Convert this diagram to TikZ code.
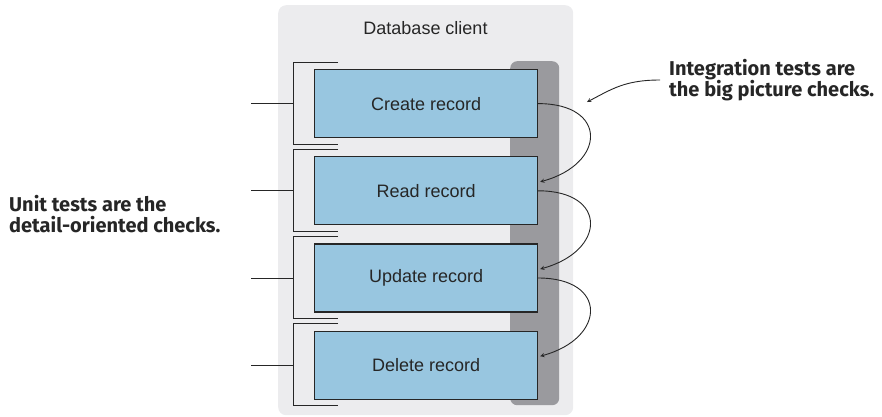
\documentclass[tikz,border=0pt]{standalone}
\usepackage{fontspec}
\setmainfont{Liberation Sans}
\newfontfamily\notefont{Fira Sans}
\usetikzlibrary{arrows, positioning, calc}
\definecolor{clientgray}{RGB}{236,236,238}
\definecolor{bargray}{RGB}{154,154,158}
\definecolor{recordblue}{RGB}{152,198,224}
\definecolor{inkgray}{RGB}{38,38,38}
\tikzstyle{record} = [draw=inkgray, line width=1.2pt, fill=recordblue, minimum width=223pt, minimum height=68pt, inner sep=0pt, font=\fontsize{18}{21}\selectfont, text=inkgray]
\tikzstyle{bracket} = [line width=1pt, inkgray]
\tikzstyle{arrow} = [line width=0.9pt,->,>=stealth,inkgray]
\tikzstyle{note} = [align=left, anchor=west, inner sep=0pt, font=\notefont\bfseries\fontsize{20}{21}\selectfont, text=inkgray]

\begin{document}
\begin{tikzpicture}[x=1pt, y=-1pt]
\useasboundingbox (0,0) rectangle (882,416);
% Client and its back bar
\node[fill=clientgray, rounded corners=8pt, minimum width=295pt, minimum height=410pt, inner sep=0pt, anchor=north west] (client) at (278,5) {};
\node[fill=bargray, rounded corners=7pt, minimum width=49pt, minimum height=344pt, inner sep=0pt, anchor=north west] (bar) at (510,61) {};
\node[font=\fontsize{18}{21}\selectfont, text=inkgray] (title) at (425.5,28) {Database client};

% Record operations
\node[record, anchor=north west] (create) at (314,69) {Create record};
\node[record, below=18pt of create] (read) {Read record};
\node[record, below=18pt of read] (update) {Update record};
\node[record, below=18pt of update] (delete) {Delete record};

% Unit test brackets
\foreach \r in {create, read, update, delete} {
    \draw[bracket] ($(\r.north west)+(24,-7)$) -| ($(\r.south west)+(-21,6)$) -- ($(\r.south west)+(24,6)$);
    \draw[bracket] ($(\r.west)+(-21,0)$) -- ($(\r.west)+(-63,0)$);
}

% Integration flow
\foreach \a/\b in {create/read, read/update, update/delete}
    \draw[arrow] (\a.east) .. controls +(70,0) and +(66,-18) .. ($(\b.east)+(2,-9)$);

% Notes
\node[note] (unitnote) at (9,214) {Unit tests are the\\detail-oriented checks.};
\node[note] (intnote) at (669,80) {Integration tests are\\the big picture checks.};
\coordinate (inttip) at (587,102);
\draw[arrow] ([xshift=-9pt]intnote.west) .. controls +(-35,0) and +(25,-13) .. (inttip);
\end{tikzpicture}
\end{document}
